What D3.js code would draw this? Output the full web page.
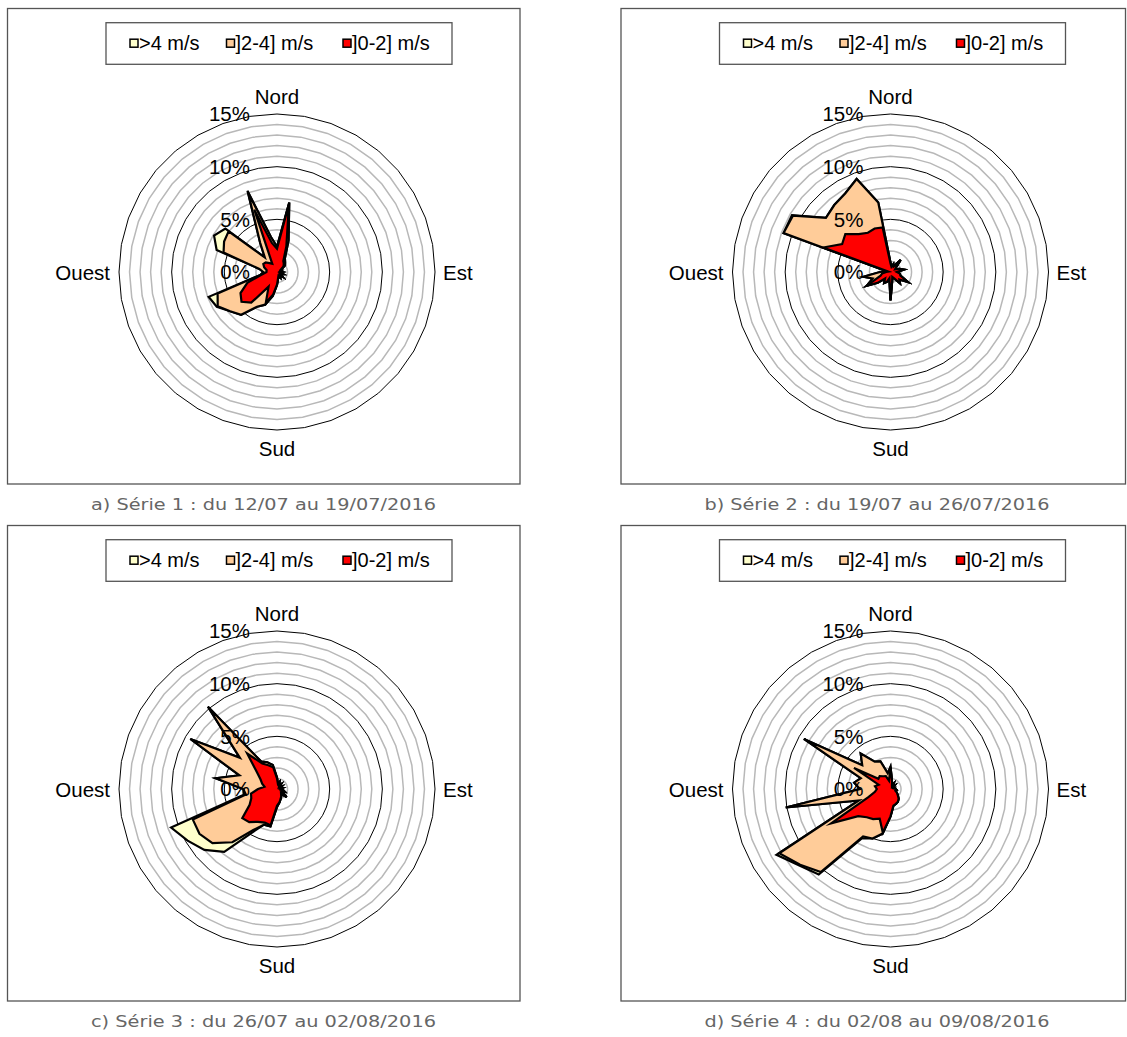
<!DOCTYPE html>
<html>
<head>
<meta charset="utf-8">
<script src="https://cdn.jsdelivr.net/npm/d3@7"></script>
<style>
  body { margin: 0; background: #fff; }
</style>
</head>
<body>
<div id="chart"></div>
<script>
// wind directions, every 10 degrees starting from north, clockwise
const directions = d3.range(0, 360, 10);
const classes = [">4 m/s", "]2-4] m/s", "]0-2] m/s"];
const classColors = ["#ffffcc", "#ffcc99", "#ff0000"];
const compassLabels = ["Nord", "Est", "Sud", "Ouest"];
const radialTicks = [0, 5, 10, 15];
const captions = [
  "a) Série 1 : du 12/07 au 19/07/2016",
  "b) Série 2 : du 19/07 au 26/07/2016",
  "c) Série 3 : du 26/07 au 02/08/2016",
  "d) Série 4 : du 02/08 au 09/08/2016"
];

// frequencies (%) per speed class, one value per direction
const serie1_low  = [2.2,6.5,2.6,1.2,1.0,0.8,0.4,0.5,0.3,0.5,0.3,0.6,0.4,0.7,0.4,0.6,0.4,0.6,1.2,2.2,3.1,1.6,3.8,4.4,4.0,3.0,1.5,1.0,1.0,1.3,1.5,1.4,1.1,0.9,6.3,2.8];
const serie1_mid  = [0.2,0.2,0.6,0.3,0.2,0.2,0.1,0,0,0,0,0,0,0,0,0,0,0,0,0.1,0.2,2.2,1.5,1.4,2.5,3.0,0.1,0.3,0.7,4.1,4.3,4.6,0.7,2.3,1.7,0.6];
const serie1_high = [0,0,0,0,0,0,0,0,0,0,0,0,0,0,0,0,0,0,0,0,0,0,0,0,0.1,0.9,0,0,0,0.7,1.1,0.4,0,0,0.2,0];

const serie2_low  = [0.8,0.5,0.8,0.6,1.5,0.7,0.5,0.9,1.3,0.6,0.9,1.0,1.9,1.1,1.4,0.7,0.5,0.9,2.7,0.6,1.0,1.2,0.8,1.6,2.6,1.0,0.8,0.4,0.2,6.8,5.3,5.6,4.7,4.3,4.4,4.3];
const serie2_mid  = [0.1,0,0,0,0,0,0,0,0,0,0,0,0,0,0,0,0,0,0,0,0,0,0,0,0,0.8,1.8,0.6,0.1,4.0,5.4,2.4,3.6,4.3,5.0,2.4];
const serie2_high = [0,0,0,0,0,0,0,0,0,0,0,0,0,0,0,0,0,0,0,0,0,0,0,0,0,0,0,0,0,0,0.1,0,0,0,0,0];

const serie3_low  = [1.0,0.5,0.7,0.4,0.6,0.3,0.5,0.3,0.5,0.3,0.6,0.8,0.5,1.2,0.6,0.8,1.0,1.3,1.6,3.5,3.4,3.6,4.1,4.3,3.0,2.6,2.5,1.8,1.2,1.5,1.8,2.5,4.4,2.8,2.4,2.1];
const serie3_mid  = [0.1,0,0,0,0,0,0,0,0,0,0,0,0,0,0,0,0,0,0.1,0.1,0.2,0.9,2.5,3.7,5.5,5.9,0.5,1.4,4.7,2.3,7.7,2.1,5.8,0.2,0.3,0.2];
const serie3_high = [0,0,0,0,0,0,0,0,0,0,0,0,0,0,0,0,0,0,0,0,0,0.3,1.2,1.0,1.3,2.2,0.2,0,0,0,0,0,0,0,0,0];

const serie4_low  = [2.1,0.8,0.4,0.6,0.3,0.5,0.3,0.4,0.3,0.5,0.6,0.5,0.7,0.9,1.2,1.4,1.5,1.6,2.6,4.2,3.0,3.3,3.5,4.0,6.5,2.2,1.5,1.3,1.5,1.2,4.0,1.5,1.6,1.4,1.3,0.8];
const serie4_mid  = [0,0,0,0,0,0,0,0,0,0,0,0,0,0,0,0,0,0,0,0.1,2.0,1.9,6.8,7.2,5.7,1.0,8.6,1.6,2.0,1.8,5.5,2.0,2.8,1.6,1.5,0.7];
const serie4_high = [0,0,0,0,0,0,0,0,0,0,0,0,0,0,0,0,0,0,0,0,0,0.2,0.3,0.1,0.3,0,0,0,0,0,0,0,0,0,0,0];

const series = [
  {low: serie1_low, mid: serie1_mid, high: serie1_high},
  {low: serie2_low, mid: serie2_mid, high: serie2_high},
  {low: serie3_low, mid: serie3_mid, high: serie3_high},
  {low: serie4_low, mid: serie4_mid, high: serie4_high}
];

const width = 1127, height = 1037;
const boxes = [
  {x: 7.5, y: 8.5, w: 512.5},
  {x: 621, y: 8.5, w: 504.5},
  {x: 7.5, y: 525.5, w: 512.5},
  {x: 621, y: 525.5, w: 504.5}
];
const boxH = 475.5;
const outerR = 158;
const font = "'Liberation Sans', Arial, sans-serif";

const svg = d3.select("#chart")
  .append("svg")
  .attr("width", width)
  .attr("height", height)
  .attr("viewBox", [0, 0, width, height]);

const r = d3.scaleLinear().domain([0, 15]).range([0, outerR]);
const angle = d => d * Math.PI / 180;

const ring = d3.lineRadial()
  .angle(d => angle(d[0]))
  .radius(d => r(d[1]))
  .curve(d3.curveLinearClosed);

series.forEach((s, k) => {
  const b = boxes[k];
  const cx = b.x + 269.5, cy = b.y + 263.5;
  const g = svg.append("g");

  g.append("rect")
    .attr("x", b.x).attr("y", b.y)
    .attr("width", b.w).attr("height", boxH)
    .attr("fill", "none")
    .attr("stroke", "#555")
    .attr("stroke-width", 1.3);

  // legend
  const lg = g.append("g").attr("transform", `translate(${b.x + 98.5},${b.y + 14.2})`);
  lg.append("rect")
    .attr("width", 346).attr("height", 41.6)
    .attr("fill", "none").attr("stroke", "#555").attr("stroke-width", 1.3);
  const itemX = [24, 120.5, 237];
  classes.forEach((c, i) => {
    lg.append("rect")
      .attr("x", itemX[i]).attr("y", 16.5)
      .attr("width", 8).attr("height", 8)
      .attr("fill", classColors[i])
      .attr("stroke", "#000").attr("stroke-width", 1.5);
    lg.append("text")
      .attr("x", itemX[i] + 9).attr("y", 27.8)
      .attr("font-family", font).attr("font-size", 20)
      .attr("fill", "#000")
      .text(c);
  });

  const plot = g.append("g").attr("transform", `translate(${cx},${cy})`);

  // gridlines, one per percent
  const levels = d3.range(1, 16);
  plot.selectAll(".grid")
    .data(levels.filter(v => v % 5 !== 0))
    .join("path")
    .attr("d", v => ring(directions.map(d => [d, v])))
    .attr("fill", "none")
    .attr("stroke", "#b8b8b8")
    .attr("stroke-width", 1.5);
  plot.selectAll(".major")
    .data(levels.filter(v => v % 5 === 0))
    .join("path")
    .attr("d", v => ring(directions.map(d => [d, v])))
    .attr("fill", "none")
    .attr("stroke", "#000")
    .attr("stroke-width", 1);

  // stacked speed classes
  const rows = directions.map((d, i) => ({dir: d, low: s.low[i], mid: s.mid[i], high: s.high[i]}));
  const stacked = d3.stack().keys(["low", "mid", "high"])(rows);
  const order = [2, 1, 0];
  order.forEach((li, j) => {
    plot.append("path")
      .attr("d", ring(stacked[li].map(p => [p.data.dir, p[1]])))
      .attr("fill", classColors[j])
      .attr("stroke", "#000")
      .attr("stroke-width", 2.2)
      .attr("stroke-linejoin", "miter")
      .attr("stroke-miterlimit", 6);
  });

  // radial axis labels
  plot.selectAll(".tick")
    .data(radialTicks)
    .join("text")
    .attr("x", -27)
    .attr("y", v => -r(v))
    .attr("dy", "0.36em")
    .attr("text-anchor", "end")
    .attr("font-family", font).attr("font-size", 20.5)
    .text(v => v + "%");

  // compass labels
  const pos = [
    {x: 0, y: -outerR - 10, anchor: "middle"},
    {x: outerR + 8, y: 7.5, anchor: "start"},
    {x: 0, y: outerR + 26, anchor: "middle"},
    {x: -outerR - 9, y: 7.5, anchor: "end"}
  ];
  compassLabels.forEach((t, i) => {
    plot.append("text")
      .attr("x", pos[i].x).attr("y", pos[i].y)
      .attr("text-anchor", pos[i].anchor)
      .attr("font-family", font).attr("font-size", 20.5)
      .text(t);
  });

  g.append("text")
    .attr("x", b.x + 256)
    .attr("y", b.y + boxH + 25.5)
    .attr("text-anchor", "middle")
    .attr("font-family", "'DejaVu Sans', sans-serif")
    .attr("font-size", 16.5)
    .attr("fill", "#666")
    .attr("textLength", 345)
    .attr("lengthAdjust", "spacingAndGlyphs")
    .text(captions[k]);
});
</script>
</body>
</html>
